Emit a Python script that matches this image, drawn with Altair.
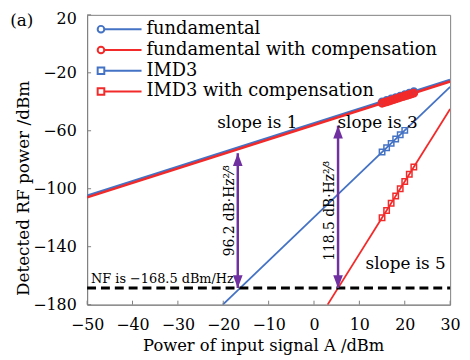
import altair as alt
import pandas as pd

# ---------------- data ----------------
x_ticks = [-50, -40, -30, -20, -10, 0, 10, 20, 30]
y_ticks = [-180, -140, -100, -60, -20, 20]

series = ["fundamental", "fundamental with compensation", "IMD3", "IMD3 with compensation"]
series_colors = ["#4472c4", "#f22a2a", "#4472c4", "#f22a2a"]
series_shapes = ["circle", "circle", "square", "square"]

# fitted lines (end points)
fund_x = [-50, 30]
fund_y = [-105.0, -25.0]
fundc_x = [-50, 30]
fundc_y = [-106.0, -26.0]
imd_x = [-20.1, 30]
imd_y = [-180.0, -29.7]
imdc_x = [3.0, 30]
imdc_y = [-180.0, -45.0]

# measured points
fund_mx = [15, 16, 17, 18, 19, 20, 21, 22]
fund_my = [-40.0, -39.0, -38.0, -37.0, -36.0, -35.0, -34.0, -33.0]
fundc_mx = [15, 15.5, 16, 16.5, 17, 17.5, 18, 18.5, 19, 19.5, 20, 20.5, 21, 21.5, 22]
fundc_my = [-41.0, -40.5, -40.0, -39.5, -39.0, -38.5, -38.0, -37.5, -37.0, -36.5,
            -36.0, -35.5, -35.0, -34.5, -34.0]
imd_mx = [15, 16, 17, 18, 19, 20]
imd_my = [-74.7, -71.7, -68.7, -65.7, -62.7, -59.7]
imdc_mx = [15, 16, 17, 18, 19, 20, 21, 22]
imdc_my = [-120.0, -115.0, -110.0, -105.0, -100.0, -95.0, -90.0, -85.0]

nf_x = [-50, 30]
nf_y = [-168.5, -168.5]

arrow_x = [-16.8, 5.3]
arrow_top = [-75.5, -56.5]
arrow_bottom = [-168.5, -168.5]
arrow_labels = ["96.2 dB·Hz²⁄³", "118.5 dB·Hz²⁄³"]

# ---------------- chart ----------------
W, H = 367, 293
FONT = "DejaVu Serif"
PURPLE = "#7030a0"

xs = alt.Scale(domain=[-50, 30], nice=False, zero=False)
ys = alt.Scale(domain=[-180, 20], nice=False, zero=False)

xax = alt.Axis(values=x_ticks, ticks=False, tickSize=0, grid=False, labelFontSize=16,
               labelPadding=12, labelOverlap=False, labelFlush=False,
               title="Power of input signal A /dBm", titleFontSize=16.5,
               titleFontWeight="normal", titleX=178, titleY=41, titleBaseline="middle",
               titleAlign="center",
               labelExpr="replace(datum.label, '-', '−')")
yax = alt.Axis(values=y_ticks, ticks=False, tickSize=0, grid=False, labelFontSize=16,
               labelPadding=11, labelOverlap=False, labelFlush=False,
               labelOffset={"condition": {"test": "datum.value == 20", "value": 4}, "value": 0},
               title="Detected RF power /dBm", titleFontSize=17,
               titleFontWeight="normal", titleX=-64, titleY=175, titleBaseline="middle",
               titleAlign="center", titleAngle=270,
               labelExpr="replace(datum.label, '-', '−')")


def line_layer(xv, yv, color, width):
    df = pd.DataFrame({"x": xv, "y": yv})
    return alt.Chart(df).mark_line(color=color, strokeWidth=width, clip=True).encode(
        x=alt.X("x:Q", scale=xs, axis=xax), y=alt.Y("y:Q", scale=ys, axis=yax))


def point_layer(xv, yv, color, shape, size, sw):
    df = pd.DataFrame({"x": xv, "y": yv})
    return alt.Chart(df).mark_point(color=color, shape=shape, size=size, strokeWidth=sw,
                                    filled=False, opacity=1).encode(
        x=alt.X("x:Q", scale=xs), y=alt.Y("y:Q", scale=ys))


nf_df = pd.DataFrame({"x": nf_x, "y": nf_y})
nf = alt.Chart(nf_df).mark_line(color="black", strokeWidth=3, strokeDash=[9, 5]).encode(
    x=alt.X("x:Q", scale=xs), y=alt.Y("y:Q", scale=ys))

arr_df = pd.DataFrame({"x": arrow_x, "top": arrow_top, "bot": arrow_bottom, "lab": arrow_labels})
arr_rule = alt.Chart(arr_df).mark_rule(color=PURPLE, strokeWidth=2.5).encode(
    x=alt.X("x:Q", scale=xs), y=alt.Y("top:Q", scale=ys), y2="bot:Q")
arr_up = alt.Chart(arr_df).mark_point(shape="M0,-1L0.75,1L-0.75,1Z", size=169, filled=True,
                                      color=PURPLE, opacity=1, yOffset=6.5).encode(
    x=alt.X("x:Q", scale=xs), y=alt.Y("top:Q", scale=ys))
arr_dn = alt.Chart(arr_df).mark_point(shape="M0,1L0.75,-1L-0.75,-1Z", size=169, filled=True,
                                      color=PURPLE, opacity=1, yOffset=-6.5).encode(
    x=alt.X("x:Q", scale=xs), y=alt.Y("bot:Q", scale=ys))
arr_txt = alt.Chart(arr_df).mark_text(font=FONT, fontSize=14, angle=270, baseline="middle",
                                      align="center", dy=-8, color="black").encode(
    x=alt.X("x:Q", scale=xs), y=alt.value(198), text="lab:N")


def note(txt, x, y, size=17, align="center"):
    return alt.Chart(pd.DataFrame({"t": [txt]})).mark_text(
        font=FONT, fontSize=size, align=align, baseline="middle", color="black").encode(
        x=alt.datum(x, scale=xs), y=alt.datum(y, scale=ys), text="t:N")


notes = [
    note("slope is 1", -12.5, -55),
    note("slope is 3", 14.0, -55),
    note("slope is 5", 20.2, -152),
    note("NF is −168.5 dBm/Hz", -33.4, -162.3, size=13),
]

# inner ticks
xt_df = pd.DataFrame({"v": x_ticks})
xt = alt.Chart(xt_df).mark_rule(color="#7f7f7f", strokeWidth=1).encode(
    x=alt.X("v:Q", scale=xs), y=alt.value(H), y2=alt.value(H - 4))
yt_df = pd.DataFrame({"v": y_ticks})
yt = alt.Chart(yt_df).mark_rule(color="#7f7f7f", strokeWidth=1).encode(
    y=alt.Y("v:Q", scale=ys), x=alt.value(0), x2=alt.value(4))

# legend
leg_df = pd.DataFrame({"name": series, "k": list(range(len(series)))})
leg_base = alt.Chart(leg_df).transform_calculate(ly="14.5 + 21*datum.k")
cscale = alt.Scale(domain=series, range=series_colors)
sscale = alt.Scale(domain=series, range=series_shapes)
leg_rule = leg_base.mark_rule(strokeWidth=2).encode(
    x=alt.value(14), x2=alt.value(55), y=alt.Y("ly:Q", scale=None),
    color=alt.Color("name:N", scale=cscale, legend=None))
leg_pt = leg_base.mark_point(filled=False, fill="white", size=45, strokeWidth=2, opacity=1).encode(
    x=alt.value(14), y=alt.Y("ly:Q", scale=None),
    color=alt.Color("name:N", scale=cscale, legend=None),
    shape=alt.Shape("name:N", scale=sscale, legend=None))
leg_txt = leg_base.mark_text(font=FONT, fontSize=18, align="left", baseline="middle",
                             color="black").encode(
    x=alt.value(60), y=alt.Y("ly:Q", scale=None), text="name:N")

label_a = alt.Chart(pd.DataFrame({"t": ["(a)"]})).mark_text(
    font=FONT, fontSize=17, align="center", baseline="middle", color="black").encode(
    x=alt.value(-66), y=alt.value(6), text="t:N")

chart = alt.layer(
    line_layer(fund_x, fund_y, series_colors[0], 3),
    line_layer(fundc_x, fundc_y, series_colors[1], 2.5),
    line_layer(imd_x, imd_y, series_colors[2], 1.8),
    line_layer(imdc_x, imdc_y, series_colors[3], 1.8),
    nf,
    point_layer(fund_mx, fund_my, series_colors[0], "circle", 45, 2),
    point_layer(fundc_mx, fundc_my, series_colors[1], "circle", 45, 2.2),
    point_layer(imd_mx, imd_my, series_colors[2], "square", 30, 1.5),
    point_layer(imdc_mx, imdc_my, series_colors[3], "square", 30, 1.5),
    arr_rule, arr_up, arr_dn, arr_txt,
    *notes,
    xt, yt,
    leg_rule, leg_pt, leg_txt,
    label_a,
).properties(
    width=W, height=H,
    padding={"left": 80, "top": 5, "right": 12, "bottom": 50},
    autosize=alt.AutoSizeParams(type="none"),
).configure(
    font=FONT,
).configure_view(
    stroke="#7f7f7f", strokeWidth=1,
).configure_axis(
    domainColor="#7f7f7f", domainWidth=1, labelFont=FONT, titleFont=FONT,
    labelColor="black", titleColor="black",
)

chart.save("out.html", embed_options={"renderer": "svg", "actions": False})
